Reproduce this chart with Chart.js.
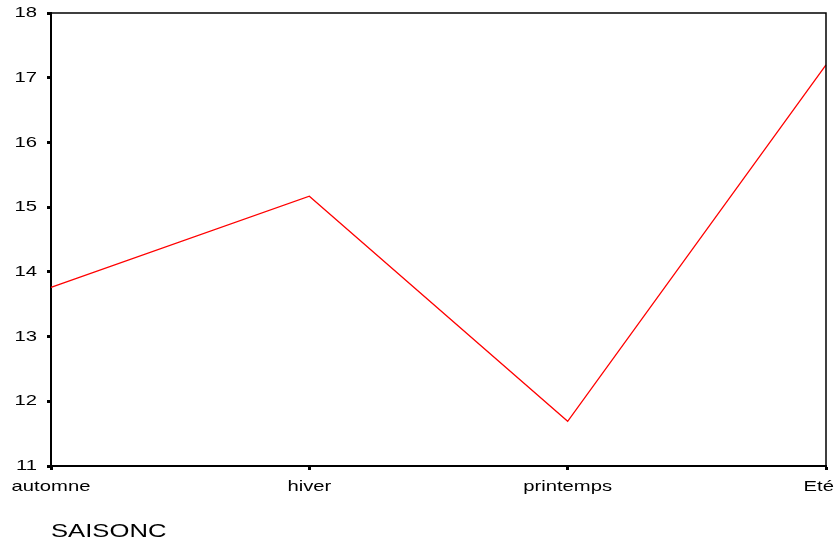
<!DOCTYPE html>
<html>
<head>
<meta charset="utf-8">
<script src="https://cdn.jsdelivr.net/npm/chart.js@4"></script>
<style>
  html, body { margin: 0; padding: 0; background: #fff; }
  #wrap { width: 838px; height: 545px; }
</style>
</head>
<body>
<div id="wrap"><canvas id="c" width="838" height="545"></canvas></div>
<script>
// Seasons and mean values per season
const seasons = ['automne', 'hiver', 'printemps', 'Eté'];
const meanValues = [13.76, 15.17, 11.69, 17.20];
const yTicks = [11, 12, 13, 14, 15, 16, 17, 18];
const xTitle = 'SAISONC';

const canvas = document.getElementById('c');
const ctx = canvas.getContext('2d');

// Wide, horizontally stretched lettering, kept inside the canvas
const stretch = 1.35;
const edge = 4;
const baseFillText = ctx.fillText.bind(ctx);
ctx.fillText = function (text, x, y, maxWidth) {
  if (this.textAlign === 'center') {
    const m = this.getTransform();
    const half = this.measureText(text).width * stretch / 2;
    const absX = m.a * x + m.c * y + m.e;
    const overflow = absX + half - (canvas.width - edge);
    if (overflow > 0) x -= overflow / (m.a || 1);
  }
  this.save();
  this.translate(x, y);
  this.scale(stretch, 1);
  baseFillText(text, 0, 0);
  this.restore();
};

// Closes the frame on the top and right sides
const frame = {
  id: 'frame',
  afterDraw(chart) {
    const a = chart.chartArea;
    const c = chart.ctx;
    c.save();
    c.strokeStyle = '#000';
    c.lineWidth = 1.5;
    c.beginPath();
    c.moveTo(a.left, a.top);
    c.lineTo(a.right, a.top);
    c.lineTo(a.right, a.bottom);
    c.stroke();
    c.restore();
  }
};

new Chart(canvas, {
  type: 'line',
  data: {
    labels: seasons,
    datasets: [{
      data: meanValues,
      borderColor: '#ff0000',
      borderWidth: 1.3,
      pointRadius: 0,
      tension: 0,
      fill: false
    }]
  },
  options: {
    responsive: false,
    animation: false,
    layout: { padding: { top: 13, right: 12, left: 0, bottom: 0 } },
    plugins: { legend: { display: false }, tooltip: { enabled: false } },
    scales: {
      x: {
        offset: false,
        grid: { drawOnChartArea: false, tickLength: 4, tickWidth: 3, tickColor: '#000' },
        border: { color: '#000', width: 2 },
        ticks: {
          color: '#000',
          font: { family: 'Liberation Sans', size: 15 },
          padding: 8,
          maxRotation: 0,
          autoSkip: false
        },
        title: {
          display: true,
          text: xTitle,
          align: 'start',
          color: '#000',
          font: { family: 'Liberation Sans', size: 19 },
          padding: { top: 0, bottom: 2 }
        },
        afterFit(scale) {
          scale.height = 79;
          scale.paddingLeft = 0;
          scale.paddingRight = 0;
        }
      },
      y: {
        min: 11,
        max: 18,
        afterBuildTicks(scale) { scale.ticks = yTicks.map(v => ({ value: v })); },
        grid: { drawOnChartArea: false, tickLength: 4, tickWidth: 3, tickColor: '#000' },
        border: { color: '#000', width: 2 },
        ticks: {
          color: '#000',
          font: { family: 'Liberation Sans', size: 15 },
          padding: 10
        },
        afterFit(scale) {
          scale.width = 51;
          scale.paddingTop = 0;
          scale.paddingBottom = 0;
        }
      }
    }
  },
  plugins: [frame]
});
</script>
</body>
</html>
